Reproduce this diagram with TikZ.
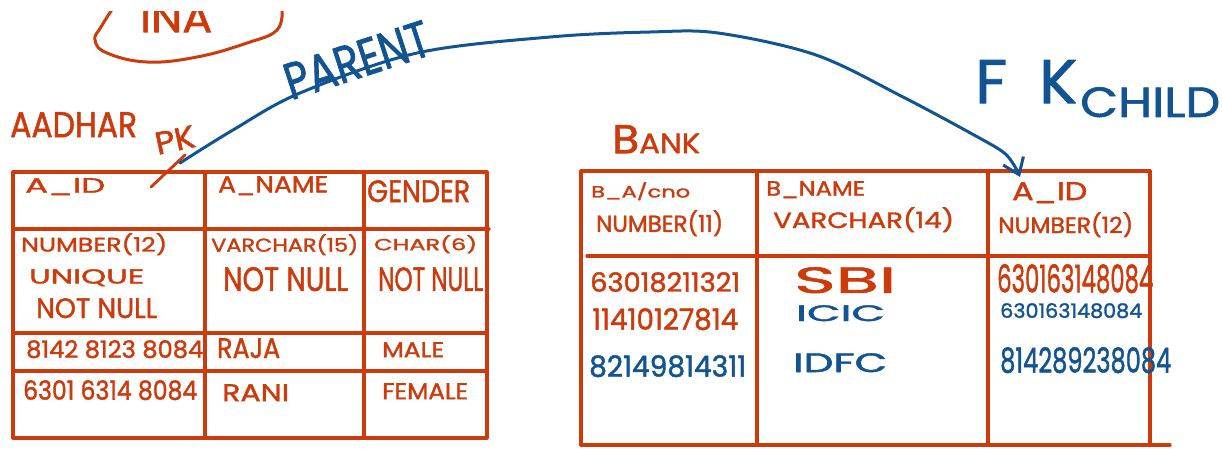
\documentclass[tikz,border=0pt]{standalone}
\usepackage{fontspec}
\setmainfont{Poppins}[FakeBold=1.5]
\usepackage{graphicx}
\usetikzlibrary{arrows.meta}
\definecolor{inkred}{RGB}{205,58,12}
\definecolor{inkblue}{RGB}{18,84,145}
% handwritten word squeezed into a box of given width and total height
\newcommand{\hw}[3]{\resizebox*{#1pt}{#2pt}{#3}}
\begin{document}
\begin{tikzpicture}[x=1pt, y=-1pt, line cap=round, line join=round,
  tablerule/.style={draw=inkred, line width=3.2pt},
  lbl/.style={anchor=north west, inner sep=0pt},
  redink/.style={text=inkred},
  blueink/.style={text=inkblue}]
\useasboundingbox (0,0) rectangle (1222,448);
\fill[white] (0,0) rectangle (1222,448);

% ---------- AADHAR table ----------
\path[tablerule] (13,172) rectangle (487,438);
\path[tablerule] (205,172) -- (205,438);
\path[tablerule] (364,172) -- (364,438);
\path[tablerule] (13,229) -- (489,229);
\path[tablerule] (13,333) -- (487,333);
\path[tablerule] (13,371) -- (487,371);

\node[lbl, redink] (aadhar) at (10,112) {\hw{127}{25}{AADHAR}};
\node[redink, inner sep=0pt, rotate=12] (pk) at (175,140) {\hw{40}{22}{PK}};

\node[lbl, redink] (aid)    at (25,178)  {\hw{80}{17}{A\_ID}};
\node[lbl, redink] (aname)  at (218,176) {\hw{110}{19}{A\_NAME}};
\node[lbl, redink] (gender) at (367,180) {\hw{103}{22}{GENDER}};

\node[lbl, redink] (numA)  at (21,233)  {\hw{146}{22}{NUMBER(12)}};
\node[lbl, redink] (uniq)  at (29,269)  {\hw{115}{17}{UNIQUE}};
\node[lbl, redink] (nnA)   at (36,298)  {\hw{121}{20}{NOT NULL}};
\node[lbl, redink] (varA)  at (211,234) {\hw{147}{21}{VARCHAR(15)}};
\node[lbl, redink] (nnB)   at (223,267) {\hw{125}{24}{NOT NULL}};
\node[lbl, redink] (charA) at (374,235) {\hw{103}{18}{CHAR(6)}};
\node[lbl, redink] (nnC)   at (378,267) {\hw{105}{24}{NOT NULL}};

\node[lbl, redink] (idA1)   at (26,340)  {\hw{177}{18}{8142 8123 8084}};
\node[lbl, redink] (raja)   at (217,338) {\hw{63}{20}{RAJA}};
\node[lbl, redink] (male)   at (382,342) {\hw{62}{15}{MALE}};
\node[lbl, redink] (idA2)   at (23,380)  {\hw{174}{20}{6301 6314 8084}};
\node[lbl, redink] (rani)   at (222,384) {\hw{67}{17}{RANI}};
\node[lbl, redink] (female) at (382,383) {\hw{86}{16}{FEMALE}};

% ---------- Bank table ----------
\path[tablerule] (581,171) -- (1150,171);
\path[tablerule] (581,171) -- (581,445);
\path[tablerule] (757,171) -- (757,445);
\path[tablerule] (988,171) -- (988,445);
\path[tablerule] (1150,171) -- (1150,445);
\path[tablerule] (587,256) -- (1150,256);
\path[tablerule] (581,445) -- (1170,445);

\node[lbl, redink] (bank) at (612,125) {\hw{88}{28}{B{\fontsize{7}{8}\selectfont ANK}}};

\node[lbl, redink] (bacno) at (591,182)  {\hw{99}{18}{B\_A/cno}};
\node[lbl, redink] (numB)  at (596,210)  {\hw{127}{26}{NUMBER(11)}};
\node[lbl, redink] (bname) at (766,181)  {\hw{99}{17}{B\_NAME}};
\node[lbl, redink] (varB)  at (773,207)  {\hw{181}{25}{VARCHAR(14)}};
\node[lbl, redink] (aidB)  at (1012,182) {\hw{75}{21}{A\_ID}};
\node[lbl, redink] (numC)  at (998,212)  {\hw{135}{25}{NUMBER(12)}};

\node[lbl, redink]  (acc1) at (590,272) {\hw{150}{20}{63018211321}};
\node[lbl, redink]  (acc2) at (592,308) {\hw{146}{22}{11410127814}};
\node[lbl, blueink] (acc3) at (589,355) {\hw{157}{22}{82149814311}};
\node[lbl, redink]  (sbi)  at (794,267) {\hw{102}{26}{SBI}};
\node[lbl, blueink] (icic) at (796,305) {\hw{89}{16}{ICIC}};
\node[lbl, blueink] (idfc) at (793,353) {\hw{94}{19}{IDFC}};
\node[lbl, redink]  (fk1)  at (997,264)  {\hw{156}{29}{630163148084}};
\node[lbl, blueink] (fk2)  at (1000,303) {\hw{142}{15}{630163148084}};
\node[lbl, blueink] (fk3)  at (1000,347) {\hw{171}{26}{814289238084}};

% ---------- relationship ----------
\node[blueink, inner sep=0pt, rotate=18] (parent) at (357,60) {\hw{150}{36}{PARENT}};
\node[lbl, blueink] (fk)    at (975,60)  {\hw{102}{43}{F\hspace{0.5em}K}};
\node[lbl, blueink] (child) at (1080,87) {\hw{140}{30}{CHILD}};

\coordinate (pkfoot)  at (151,187);
\coordinate (pkhead)  at (185,155);
\coordinate (pkstart) at (180,163);
\coordinate (fktip)   at (1020,177);

\draw[inkred, line width=2.8pt] (pkfoot) -- (pkhead);
\draw[inkblue, line width=3pt, -{Straight Barb[length=15pt,width=22pt]}]
  plot[smooth, tension=0.55] coordinates {(pkstart) (233,130) (300,93) (417,53)
    (550,37) (650,32) (718,33) (816,55) (903,97) (974,135) (1003,152) (1014,165) (fktip)};

% ---------- scribble at the top edge ----------
\begin{scope}
  \clip (0,11) rectangle (1222,448);
  \draw[inkred, line width=3pt] plot[smooth, tension=0.7] coordinates {(113,8) (101,27) (95,40)
    (107,53) (147,62) (197,57) (247,43) (277,30) (282,8)};
  \node[lbl, redink] (ina) at (140,4) {\hw{72}{28}{INA}};
\end{scope}
\end{tikzpicture}
\end{document}
